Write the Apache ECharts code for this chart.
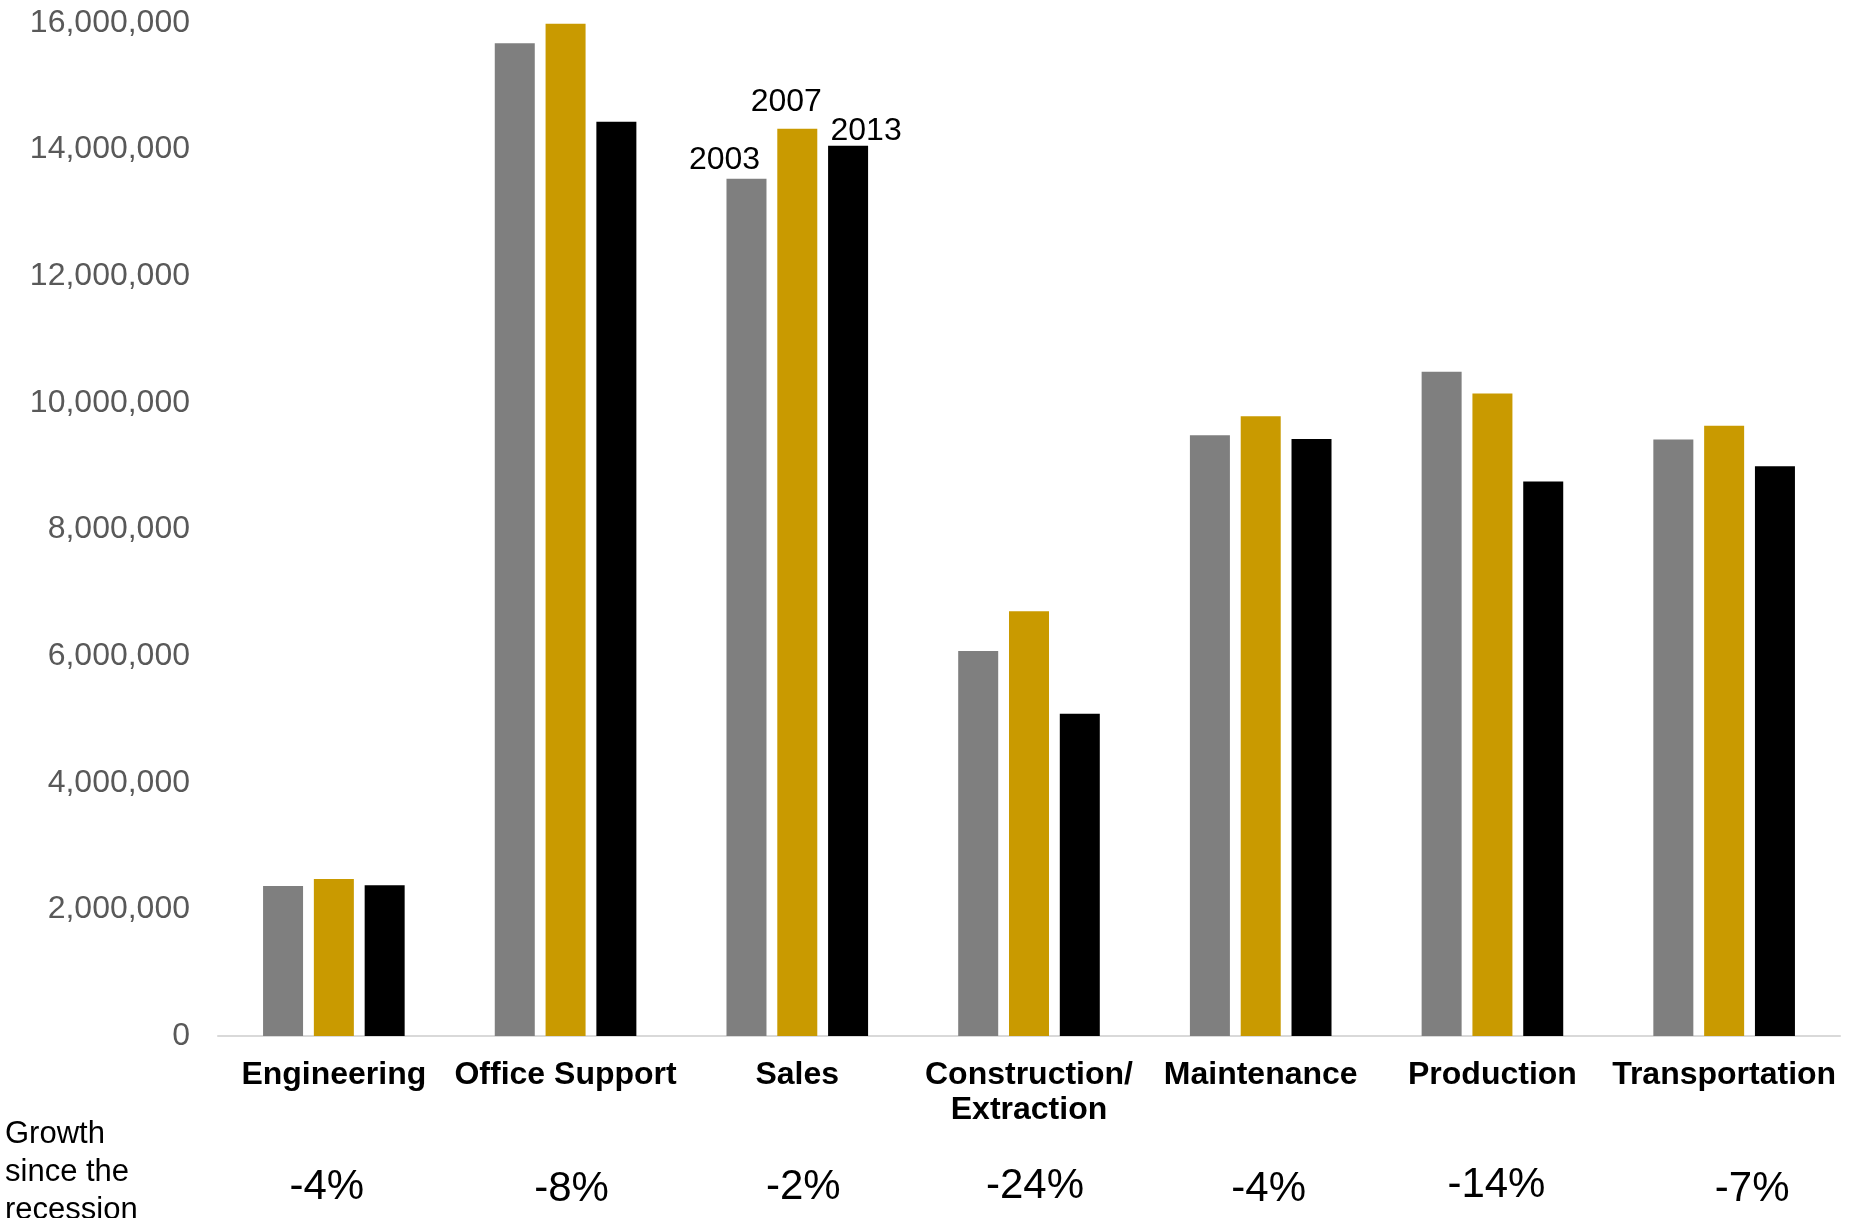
<!DOCTYPE html>
<html>
<head>
<meta charset="utf-8">
<title>Employment by occupation, 2003 / 2007 / 2013</title>
<script src="https://cdn.jsdelivr.net/npm/echarts@6/dist/echarts.min.js"></script>
<style>
  html, body { margin: 0; padding: 0; background: #ffffff; }
  #chart { width: 1854px; height: 1218px; }
</style>
</head>
<body>
<div id="chart"></div>
<script>
// Occupation groups along the x axis
const categories = ['Engineering', 'Office Support', 'Sales', 'Construction/\nExtraction', 'Maintenance', 'Production', 'Transportation'];

// Employment counts per year
const years = ['2003', '2007', '2013'];
const jobs2003 = [2370000, 15680000, 13540000, 6080000, 9490000, 10490000, 9420000];
const jobs2007 = [2480000, 15990000, 14330000, 6710000, 9790000, 10150000, 9640000];
const jobs2013 = [2380000, 14440000, 14060000, 5090000, 9430000, 8760000, 9000000];

// Growth since the recession, per occupation
const growth = ['-4%', '-8%', '-2%', '-24%', '-4%', '-14%', '-7%'];

// Y axis range
const yMin = 0;
const yMax = 16000000;
const yStep = 2000000;

const FONT = '"Liberation Sans", Arial, Helvetica, sans-serif';
const colors = ['#7f7f7f', '#c99a00', '#000000'];
const seriesValues = [jobs2003, jobs2007, jobs2013];

// Year names are written above the Sales bars only
const labelledIndex = categories.indexOf('Sales');
const yearLabelOffsets = [[-22, 0], [-11, -8], [18, 4]];

// Small nudges for the growth figures (dx, dy in px)
const growthNudge = [[-7, 4], [6, 8], [6, 4], [6, 2], [8, 8], [4, 0], [28, 9]];
const growthRich = {};
growthNudge.forEach(([dx, dy], i) => {
  growthRich['g' + i] = {
    fontFamily: FONT,
    fontSize: 42,
    lineHeight: 48,
    color: '#000000',
    padding: [dy, dx < 0 ? -2 * dx : 0, 0, dx > 0 ? 2 * dx : 0]
  };
});

const series = years.map((name, s) => ({
  name: name,
  type: 'bar',
  barWidth: 40,
  barGap: '27%',
  itemStyle: { color: colors[s] },
  data: seriesValues[s].map((v, i) => {
    if (i !== labelledIndex) return v;
    return {
      value: v,
      label: {
        show: true,
        position: 'top',
        distance: 3,
        offset: yearLabelOffsets[s],
        formatter: name,
        fontFamily: FONT,
        fontSize: 32,
        lineHeight: 32,
        color: '#000000'
      }
    };
  })
}));

const chart = echarts.init(document.getElementById('chart'), null, { renderer: 'canvas' });

chart.setOption({
  animation: false,
  backgroundColor: '#ffffff',
  grid: { left: 218, right: 14, top: 23, bottom: 182, containLabel: false },
  xAxis: [
    {
      type: 'category',
      data: categories,
      position: 'bottom',
      axisLine: { show: true, lineStyle: { color: '#d9d9d9', width: 2 } },
      axisTick: { show: false },
      axisLabel: {
        interval: 0,
        hideOverlap: false,
        margin: 22,
        fontFamily: FONT,
        fontSize: 32,
        fontWeight: 'bold',
        lineHeight: 35,
        color: '#000000'
      },
      splitLine: { show: false }
    },
    {
      type: 'category',
      data: growth,
      position: 'bottom',
      offset: 100,
      axisLine: { show: false },
      axisTick: { show: false },
      axisLabel: {
        interval: 0,
        hideOverlap: false,
        margin: 25,
        formatter: (v, i) => '{g' + i + '|' + v + '}',
        rich: growthRich
      },
      splitLine: { show: false }
    }
  ],
  yAxis: {
    type: 'value',
    min: yMin,
    max: yMax,
    interval: yStep,
    axisLine: { show: false },
    axisTick: { show: false },
    splitLine: { show: false },
    axisLabel: {
      margin: 28,
      fontFamily: FONT,
      fontSize: 32,
      color: '#595959',
      formatter: v => v.toLocaleString('en-US')
    }
  },
  series: series,
  graphic: [
    {
      type: 'text',
      left: 5,
      top: 1115,
      style: {
        text: 'Growth\nsince the\nrecession',
        font: '31px ' + FONT,
        lineHeight: 38,
        fill: '#000000'
      }
    }
  ]
});
</script>
</body>
</html>
